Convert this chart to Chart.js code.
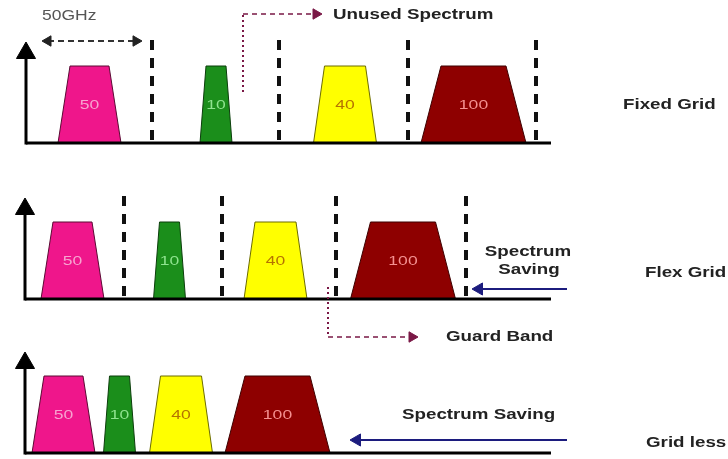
<!DOCTYPE html>
<html><head><meta charset="utf-8">
<script src="https://cdn.jsdelivr.net/npm/chart.js@4"></script>
<style>html,body{margin:0;padding:0;background:#fff}#wrap{position:relative;width:728px;height:459px}</style>
</head><body><div id="wrap"><canvas id="c"></canvas></div>
<script>
// ---- data ----
const rowNames = ['Fixed Grid', 'Flex Grid', 'Grid less'];
const channelLabels = ['50', '10', '40', '100'];
const fixedCenters = [89.5, 216, 345, 473.5];
const flexCenters = [72.5, 169.5, 275.5, 403];
const gridlessCenters = [63.5, 119.5, 181, 277.5];
const baseSpan = [63, 32, 63, 105];
const topSpan = [39, 20, 41, 65];
const fixedGridLines = [152, 279, 408, 536];
const flexGridLines = [124, 222, 336, 466];
const channelLevel = 77;

// ---- layout / style ----
const rowBase = [143, 299, 453];
const axisX = [26, 25, 25];
const axisEnd = 551;
const axisHeight = 101;
const gridHeight = 103;
const fillColors = ['#ef168b', '#1b8e1b', '#ffff00', '#8e0000'];
const edgeColors = ['#5a0a33', '#0b3d0b', '#6b6b00', '#3d0000'];
const labelColors = ['#f7a3d0', '#8fe38f', '#b57300', '#f49090'];
const rowCenters = [fixedCenters, flexCenters, gridlessCenters];
const rowGrids = [fixedGridLines, flexGridLines, []];
const maroon = '#7a1846';
const navy = '#1c1c7e';

const datasets = [];
function line(pts, color, width, dash, order) {
  datasets.push({data: pts, borderColor: color, borderWidth: width, borderDash: dash || [],
    borderCapStyle: 'butt', pointRadius: 0, fill: false, order: order});
}
function head(x, y, rot, r, color) {
  datasets.push({data: [{x, y}], showLine: false, pointStyle: 'triangle', pointRadius: r,
    pointRotation: rot, pointBackgroundColor: color, pointBorderColor: color, pointBorderWidth: 1, order: 1});
}

rowCenters.forEach((centers, r) => {
  const b = rowBase[r];
  centers.forEach((c, i) => {
    datasets.push({
      data: [{x: c - baseSpan[i] / 2, y: b}, {x: c - topSpan[i] / 2, y: b - channelLevel},
             {x: c + topSpan[i] / 2, y: b - channelLevel}, {x: c + baseSpan[i] / 2, y: b}],
      fill: {value: b}, backgroundColor: fillColors[i], borderColor: edgeColors[i],
      borderWidth: 1, pointRadius: 0, order: 10
    });
  });
  rowGrids[r].forEach(g => line([{x: g, y: b - gridHeight}, {x: g, y: b}], '#111', 4, [10, 8], 6));
  line([{x: axisX[r], y: b}, {x: axisEnd, y: b}], '#000', 3, null, 5);
  line([{x: axisX[r], y: b + 1.5}, {x: axisX[r], y: b - axisHeight + 10}], '#000', 3, null, 5);
  head(axisX[r], b - axisHeight + 11, 0, 11, '#000');
});

// 50GHz span arrow
line([{x: 48, y: 41}, {x: 136, y: 41}], '#333', 2, [6, 4], 4);
head(48, 41, -90, 6, '#222');
head(136, 41, 90, 6, '#222');
// Unused spectrum pointer
line([{x: 243, y: 92}, {x: 243, y: 14}], maroon, 2, [2, 3], 4);
line([{x: 243, y: 14}, {x: 316, y: 14}], maroon, 1.5, [5, 4], 4);
head(316, 14, 90, 6, maroon);
// Guard band pointer
line([{x: 328, y: 287}, {x: 328, y: 337}], maroon, 2, [2, 3], 4);
line([{x: 328, y: 337}, {x: 412, y: 337}], maroon, 1.5, [5, 4], 4);
head(412, 337, 90, 6, maroon);
// Spectrum saving arrows
line([{x: 567, y: 289}, {x: 478, y: 289}], navy, 2, null, 4);
head(479, 289, -90, 7, navy);
line([{x: 567, y: 440}, {x: 356, y: 440}], navy, 2, null, 4);
head(357, 440, -90, 7, navy);

const texts = [
  {t: 'Fixed Grid', x: 623, y: 105, bold: true},
  {t: 'Flex Grid', x: 645, y: 273, bold: true},
  {t: 'Grid less', x: 646, y: 443, bold: true},
  {t: 'Unused Spectrum', x: 333, y: 15, bold: true},
  {t: 'Guard Band', x: 446, y: 337, bold: true},
  {t: 'Spectrum Saving', x: 402, y: 415, bold: true},
  {t: 'Spectrum', x: 528, y: 252, bold: true, align: 'center'},
  {t: 'Saving', x: 529, y: 270, bold: true, align: 'center'},
  {t: '50GHz', x: 42, y: 16, bold: false, color: '#555', size: 14}
];

const textPlugin = {
  id: 'texts',
  afterDatasetsDraw(chart) {
    const ctx = chart.ctx, xs = chart.scales.x, ys = chart.scales.y;
    function draw(t, x, y, font, color, sx, align) {
      ctx.save();
      ctx.font = font; ctx.fillStyle = color; ctx.textBaseline = 'middle'; ctx.textAlign = align;
      ctx.translate(xs.getPixelForValue(x), ys.getPixelForValue(y));
      ctx.scale(sx, 1);
      ctx.fillText(t, 0, 0);
      ctx.restore();
    }
    texts.forEach(o => draw(o.t, o.x, o.y,
      (o.bold ? 'bold ' : '') + (o.size || 15) + 'px "Liberation Sans", Arial, sans-serif',
      o.color || '#222', 1.25, o.align || 'left'));
    rowCenters.forEach((centers, r) => centers.forEach((c, i) =>
      draw(channelLabels[i], c, rowBase[r] - channelLevel / 2 + 1, '13px "Liberation Sans", Arial, sans-serif',
        labelColors[i], 1.35, 'center')));
  }
};

new Chart(document.getElementById('c'), {
  type: 'line',
  data: {datasets},
  options: {
    responsive: true, maintainAspectRatio: false, animation: false,
    layout: {padding: 0, autoPadding: false},
    plugins: {legend: {display: false}, tooltip: {enabled: false}},
    events: [],
    scales: {
      x: {type: 'linear', min: 0, max: 728, display: false},
      y: {type: 'linear', min: 0, max: 459, reverse: true, display: false}
    }
  },
  plugins: [textPlugin]
});
</script></body></html>
